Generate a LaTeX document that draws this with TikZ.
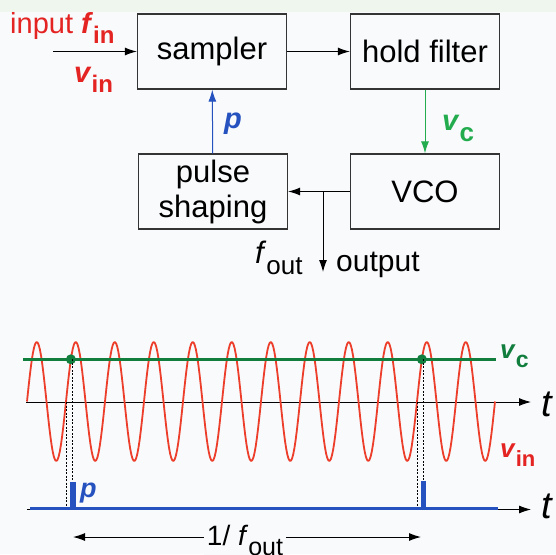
\documentclass[tikz,border=0pt]{standalone}
\usepackage{fontspec}
\setmainfont{Liberation Sans}
\usepackage{tikz}
\usetikzlibrary{arrows.meta}
\definecolor{bgpaper}{RGB}{248,250,252}
\definecolor{bgstrip}{RGB}{238,246,238}
\definecolor{sigred}{RGB}{228,36,34}
\definecolor{wavered}{RGB}{236,62,42}
\definecolor{ctrlgreen}{RGB}{34,172,78}
\definecolor{linegreen}{RGB}{18,126,62}
\definecolor{pulseblue}{RGB}{38,82,192}
\definecolor{boxgray}{RGB}{52,52,52}
\newcommand{\fsz}[1]{\fontsize{#1}{#1}\selectfont}
\newcommand{\subtxt}[2][24]{\raisebox{-0.36em}{\fsz{#1}#2}}

\begin{document}
\begin{tikzpicture}[x=1pt, y=-1pt, >={Latex[length=12pt,width=8pt]},
  block/.style={draw=boxgray, line width=1.3pt, minimum width=149pt, minimum height=75pt,
    inner sep=0pt, align=center, font=\fontsize{31}{35}\selectfont},
  lbl/.style={anchor=base west, inner sep=0pt},
  link/.style={->, line width=1pt}]
  \fill[bgpaper] (0,0) rectangle (556,554);
  \fill[bgstrip] (0,0) rectangle (556,11.7);
  \useasboundingbox (0,0) rectangle (556,554);

  \node[block] (sampler) at (212,51.5) {sampler};
  \node[block] (hold) at (425,51.5) {hold filter};
  \node[block] (shaper) at (213,191.5) {pulse\\shaping};
  \node[block] (vco) at (425,191.5) {VCO};
  \coordinate (inp) at (53,51.5);
  \coordinate (tap) at (323,191.5);
  \coordinate (outp) at (323,272);
  \draw[link] (inp) -- (sampler);
  \draw[link] (sampler) -- (hold);
  \draw[link, ctrlgreen] (hold) -- (vco);
  \draw[link, pulseblue] (shaper) -- (sampler);
  \draw[link] (vco) -- (shaper);
  \draw[link] (tap) -- (outp);
  \node[lbl, sigred, font=\fsz{29}] (inlabel) at (10,33) {input \textbf{\textit{f}}\subtxt{\textbf{in}}};
  \node[lbl, sigred, font=\fsz{29}] (vinlabel) at (74,82) {\textbf{\textit{v}}\subtxt{\textbf{in}}};
  \node[lbl, ctrlgreen, font=\fsz{29}] (vclabel) at (442,130.7) {\textbf{\textit{v}}\subtxt[26]{\textbf{c}}};
  \node[lbl, pulseblue, font=\fsz{29}] (plabel) at (224,128) {\textbf{\textit{p}}};
  \node[lbl, font=\fsz{31}] (foutlabel) at (255,263.3) {\textit{f}\subtxt[26]{out}};
  \node[lbl, font=\fsz{30}] (outlabel) at (336,271.7) {output};

  \coordinate (axa) at (26,402);
  \coordinate (axb) at (531,402);
  \draw[link, line width=0.9pt] (axa) -- (axb);
  \draw[wavered, line width=1.8pt, samples=400, domain=27:495, line join=round]
    plot (\x,{401.5-59.5*sin((\x-27)/39*360)});
  \draw[linegreen, line width=3.5pt] (23,359.3) -- (496,359.3);
  \fill[linegreen] (70.9,359.3) circle (5pt);
  \fill[linegreen] (421.9,359.3) circle (5pt);
  \draw[line width=0.7pt, dash pattern=on 2pt off 1.5pt] (66,402) -- (66,508) (72.5,359.3) -- (72.5,482);
  \draw[line width=0.7pt, dash pattern=on 2pt off 1.5pt] (417,402) -- (417,508) (423.4,359.3) -- (423.4,481);
  \coordinate (pxa) at (27,509.5);
  \coordinate (pxb) at (531,509.5);
  \draw[link, line width=0.9pt] (pxa) -- (pxb);
  \draw[pulseblue, line width=3.5pt] (30,508.5) -- (498,508.5);
  \fill[pulseblue] (70,481.5) rectangle (75.5,508);
  \fill[pulseblue] (420.5,481) rectangle (426,508);
  \node[lbl, font=\fsz{38}] (tupper) at (541,416.7) {\textit{t}};
  \node[lbl, font=\fsz{38}] (tlower) at (541,518.3) {\textit{t}};
  \node[lbl, linegreen, font=\fsz{26}] (vcplot) at (500,358) {\textbf{\textit{v}}\subtxt[23]{\textbf{c}}};
  \node[lbl, sigred, font=\fsz{26}] (vinplot) at (500,457) {\textbf{\textit{v}}\subtxt[22]{\textbf{in}}};
  \node[lbl, pulseblue, font=\fsz{27}] (pplot) at (80,497) {\textbf{\textit{p}}};
  \coordinate (perl) at (73,537);
  \coordinate (perr) at (421,537);
  \draw[<->, line width=1pt] (perl) -- (perr);
  \node[fill=bgpaper, anchor=base, inner xsep=3pt, inner ysep=1pt, font=\fsz{28}] (period) at (245,545) {1/ \textit{f}\subtxt[25]{out}};
\end{tikzpicture}
\end{document}
